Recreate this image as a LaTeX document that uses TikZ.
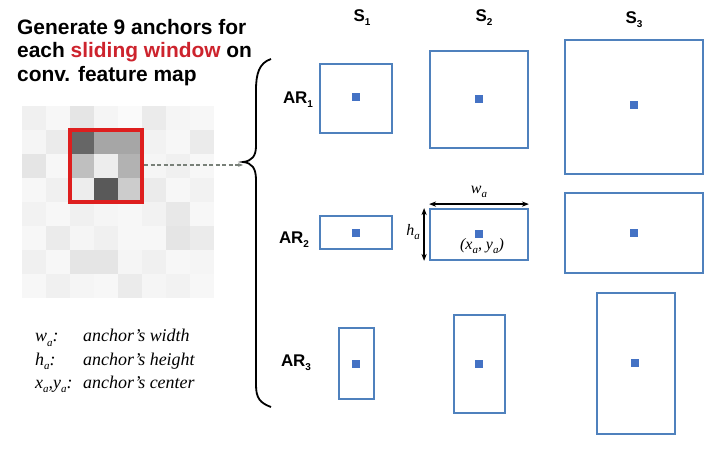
\documentclass[tikz,border=0pt]{standalone}
\usepackage{fontspec}
\setmainfont{Liberation Serif}
\setsansfont{Liberation Sans}
\usetikzlibrary{arrows.meta}
\definecolor{boxblue}{RGB}{79,129,189}
\definecolor{dotblue}{RGB}{68,114,196}
\definecolor{redwin}{RGB}{222,30,30}
\definecolor{txtred}{RGB}{205,35,45}
\definecolor{dashgray}{RGB}{120,128,120}
\newcommand\ssub[1]{\raisebox{-0.45ex}{\fontsize{10}{10}\selectfont #1}}
\newcommand\lsub[1]{\raisebox{-0.6ex}{\fontsize{11}{11}\selectfont #1}}
\begin{document}
\begin{tikzpicture}[x=1bp,y=-1bp,
  abox/.style={draw=boxblue, line width=1.8bp, inner sep=0pt},
  adot/.style={fill=dotblue, inner sep=0pt, minimum size=7.5bp},
  lab/.style={font=\sffamily\bfseries\fontsize{17}{20}\selectfont, inner sep=0pt},
  head/.style={font=\sffamily\bfseries\fontsize{21}{24}\selectfont, anchor=base west, inner sep=0pt},
  leg/.style={font=\itshape\fontsize{18}{22}\selectfont, anchor=base west, inner sep=0pt},
  dim/.style={line width=1.4bp, {Stealth[length=7bp]}-{Stealth[length=7bp]}},
  ilab/.style={font=\itshape\fontsize{16}{18}\selectfont, inner sep=0pt}]
\useasboundingbox (0,0) rectangle (717,454);
% heading
\node[head] (h1) at (17,35) {Generate 9 anchors for};
\node[head] (h2) at (17,58) {each {\color{txtred}sliding window} on};
\node[head] (h3) at (17,82) {conv. feature map};
% feature map
\foreach \v [count=\i from 0] in {
 6,3,10,4,2,8,4,3,
 4,8,60,35,35,5,3,8,
 10,3,25,7,30,4,6,3,
 3,6,7,65,20,8,3,5,
 5,3,6,4,3,5,9,3,
 3,8,4,6,3,3,10,8,
 6,3,10,10,4,6,3,4,
 3,6,4,3,8,4,5,3}{
  \pgfmathtruncatemacro\cc{mod(\i,8)}
  \pgfmathtruncatemacro\rr{div(\i,8)}
  \fill[black!\v] (22+24*\cc,106+24*\rr) rectangle ++(24,24);
}
\node[draw=redwin, line width=4bp, minimum width=72bp, minimum height=72bp, inner sep=0pt] (win) at (106,166) {};
% brace
\coordinate (tip) at (243,162);
\draw[line width=1.8bp] (271,59) .. controls (259,63) and (256,74) .. (256,90) -- (256,146)
  .. controls (256,156) and (252,161) .. (tip)
  .. controls (252,163) and (256,168) .. (256,180) -- (256,385)
  .. controls (256,398) and (260,403) .. (271,407);
\draw[dashgray, line width=1.2bp, dash pattern=on 4bp off 2.5bp, -{Stealth[length=5bp]}] (win.east |- 0,165) coordinate (ws) -- (tip |- 0,165) coordinate (we);
% column / row labels
\node[lab] (s1) at (362,18) {S\ssub{1}};
\node[lab] (s2) at (484,18) {S\ssub{2}};
\node[lab] (s3) at (634,20) {S\ssub{3}};
\node[lab] (ar1) at (298,100) {AR\ssub{1}};
\node[lab] (ar2) at (294,240) {AR\ssub{2}};
\node[lab] (ar3) at (296,363) {AR\ssub{3}};
% anchor boxes
\node[abox, minimum width=72bp, minimum height=69bp] (b11) at (356,98.5) {};
\node[abox, minimum width=98bp, minimum height=97bp] (b12) at (479,99.5) {};
\node[abox, minimum width=138bp, minimum height=134bp] (b13) at (634,107) {};
\node[abox, minimum width=72bp, minimum height=33bp] (b21) at (356,232.5) {};
\node[abox, minimum width=98bp, minimum height=51bp] (b22) at (479,234.5) {};
\node[abox, minimum width=138bp, minimum height=80bp] (b23) at (634,233) {};
\node[abox, minimum width=35bp, minimum height=71bp] (b31) at (356.5,363.5) {};
\node[abox, minimum width=51bp, minimum height=98bp] (b32) at (479.5,364) {};
\node[abox, minimum width=78bp, minimum height=141bp] (b33) at (636,363.5) {};
\node[adot] (d11) at (356,97) {};
\node[adot] (d12) at (479,99) {};
\node[adot] (d13) at (634,105) {};
\node[adot] (d21) at (356,233) {};
\node[adot] (d22) at (479,234) {};
\node[adot] (d23) at (634,233) {};
\node[adot] (d31) at (356,364) {};
\node[adot] (d32) at (479,364) {};
\node[adot] (d33) at (635,363) {};
% dimensions
\coordinate (wl) at ([yshift=4bp]b22.north west);
\coordinate (wr) at ([yshift=4bp]b22.north east);
\draw[dim] (wl) -- (wr);
\coordinate (ht) at ([xshift=-5bp]b22.north west);
\coordinate (hb) at ([xshift=-5bp]b22.south west);
\draw[dim] (ht) -- (hb);
\node[ilab] (wlab) at (479,192) {w\lsub{a}};
\node[ilab] (hlab) at (413,232) {h\lsub{a}};
\node[ilab] (clab) at (482,246) {(x\lsub{a}, y\lsub{a})};
% legend
\node[leg] (l1a) at (35,342) {w\lsub{a}:};
\node[leg] (l1b) at (83,342) {anchor's width};
\node[leg] (l2a) at (35,365) {h\lsub{a}:};
\node[leg] (l2b) at (83,365) {anchor's height};
\node[leg] (l3a) at (35,388) {x\lsub{a},y\lsub{a}:};
\node[leg] (l3b) at (83,388) {anchor's center};
\end{tikzpicture}
\end{document}
